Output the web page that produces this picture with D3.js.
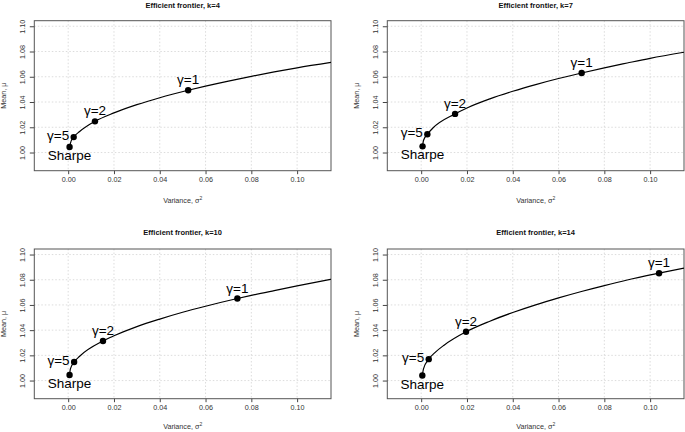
<!DOCTYPE html>
<html>
<head>
<meta charset="utf-8">
<script src="https://cdn.jsdelivr.net/npm/d3@7"></script>
<style>
  html, body { margin: 0; padding: 0; background: #fff; }
  svg { display: block; }
  text { font-family: "Liberation Sans", Arial, Helvetica, sans-serif; }
  .axis text { -webkit-font-smoothing: grayscale; }
</style>
</head>
<body>
<svg id="chart" width="685" height="432"></svg>
<script>
// ---- data ----
const titles = ["Efficient frontier, k=4", "Efficient frontier, k=7", "Efficient frontier, k=10", "Efficient frontier, k=14"];
const pointLabels = ["Sharpe", "γ=5", "γ=2", "γ=1"];
const pointVar = [
  [0.0006, 0.0024, 0.0117, 0.0524],
  [0.0006, 0.0027, 0.0148, 0.0701],
  [0.0006, 0.0026, 0.0152, 0.0739],
  [0.0005, 0.0033, 0.0196, 0.1039]
];
const pointMean = [
  [1.0044, 1.0122, 1.0247, 1.0493],
  [1.0049, 1.0145, 1.0306, 1.0630],
  [1.0044, 1.0147, 1.0314, 1.0651],
  [1.0040, 1.0170, 1.0387, 1.0852]
];
const curveVar = [
  [0.0006, 0.001, 0.0024, 0.005, 0.0117, 0.02, 0.03, 0.04, 0.0524, 0.06, 0.07, 0.08, 0.09, 0.10, 0.1148],
  [0.0006, 0.001, 0.0027, 0.005, 0.0148, 0.02, 0.03, 0.04, 0.05, 0.06, 0.0701, 0.08, 0.09, 0.10, 0.1148],
  [0.0006, 0.001, 0.0026, 0.005, 0.0152, 0.02, 0.03, 0.04, 0.05, 0.06, 0.0739, 0.08, 0.09, 0.10, 0.1148],
  [0.0005, 0.001, 0.0033, 0.006, 0.01, 0.0196, 0.03, 0.04, 0.05, 0.06, 0.07, 0.08, 0.09, 0.1039, 0.1148]
];
const curveMean = [
  [1.0044, 1.0075, 1.0122, 1.0166, 1.0247, 1.0314, 1.0379, 1.0434, 1.0493, 1.0526, 1.0566, 1.0603, 1.0638, 1.0671, 1.0714],
  [1.0049, 1.0095, 1.0145, 1.0192, 1.0306, 1.0353, 1.0425, 1.0485, 1.0538, 1.0586, 1.0630, 1.0671, 1.0709, 1.0746, 1.0794],
  [1.0044, 1.0095, 1.0147, 1.0193, 1.0314, 1.0355, 1.0428, 1.0488, 1.0542, 1.0590, 1.0651, 1.0676, 1.0714, 1.0751, 1.0804],
  [1.0040, 1.0093, 1.0170, 1.0222, 1.0281, 1.0387, 1.0471, 1.0540, 1.0601, 1.0656, 1.0707, 1.0754, 1.0798, 1.0852, 1.0892]
];
const xTicks = [0.00, 0.02, 0.04, 0.06, 0.08, 0.10];
const yTicks = [1.00, 1.02, 1.04, 1.06, 1.08, 1.10];
const xDomain = [-0.0148, 0.1148];
const yDomain = [0.9856, 1.1044];

// ---- layout ----
const boxes = [
  { l: 34.3, r: 331, t: 20.7, b: 170.7, titleY: 7.5, xlabY: 203 },
  { l: 387.3, r: 684, t: 20.7, b: 170.7, titleY: 7.5, xlabY: 203 },
  { l: 34.3, r: 331, t: 249, b: 398.7, titleY: 234.5, xlabY: 429 },
  { l: 387.3, r: 684, t: 249, b: 398.7, titleY: 234.5, xlabY: 429 }
];

const svg = d3.select("#chart");
const fmt = d3.format(".2f");

boxes.forEach((bx, i) => {
  const x = d3.scaleLinear().domain(xDomain).range([bx.l, bx.r]);
  const y = d3.scaleLinear().domain(yDomain).range([bx.b, bx.t]);
  const g = svg.append("g");

  const clipId = "clip" + i;
  g.append("clipPath").attr("id", clipId)
    .append("rect").attr("x", bx.l).attr("y", bx.t)
    .attr("width", bx.r - bx.l).attr("height", bx.b - bx.t);

  // grid
  g.selectAll(".gx").data(xTicks).join("line")
    .attr("x1", d => x(d)).attr("x2", d => x(d))
    .attr("y1", bx.t).attr("y2", bx.b)
    .attr("stroke", "#d3d3d3").attr("stroke-width", 0.8).attr("stroke-dasharray", "1.5,2");
  g.selectAll(".gy").data(yTicks).join("line")
    .attr("y1", d => y(d)).attr("y2", d => y(d))
    .attr("x1", bx.l).attr("x2", bx.r)
    .attr("stroke", "#d3d3d3").attr("stroke-width", 0.8).attr("stroke-dasharray", "1.5,2");

  // axes
  const xAxis = d3.axisBottom(x).tickValues(xTicks).tickFormat(fmt).tickSize(3.5).tickPadding(3);
  const gx = g.append("g").attr("class", "axis").attr("transform", `translate(0,${bx.b})`).call(xAxis);
  gx.select(".domain").remove();
  gx.selectAll("line").attr("stroke", "#444");
  gx.selectAll("text").attr("font-size", 7.2).attr("fill", "#333")
    .attr("font-family", "Liberation Sans, Arial, sans-serif");

  const yAxis = d3.axisLeft(y).tickValues(yTicks).tickFormat(fmt).tickSize(4.5).tickPadding(0);
  const gy = g.append("g").attr("class", "axis").attr("transform", `translate(${bx.l},0)`).call(yAxis);
  gy.select(".domain").remove();
  gy.selectAll("line").attr("stroke", "#444");
  gy.selectAll("text")
    .attr("font-size", 7.2).attr("fill", "#333")
    .attr("font-family", "Liberation Sans, Arial, sans-serif")
    .attr("x", null).attr("dy", null)
    .attr("text-anchor", "middle")
    .attr("transform", "translate(-9,0) rotate(-90)");

  // frame
  g.append("rect").attr("x", bx.l).attr("y", bx.t)
    .attr("width", bx.r - bx.l).attr("height", bx.b - bx.t)
    .attr("fill", "none").attr("stroke", "#555").attr("stroke-width", 1);

  // titles
  g.append("text").attr("x", (bx.l + bx.r) / 2).attr("y", bx.titleY)
    .attr("text-anchor", "middle").attr("font-size", 7.5).attr("font-weight", "bold")
    .attr("fill", "#111").text(titles[i]);

  const xl = g.append("text").attr("class", "axis").attr("x", (bx.l + bx.r) / 2).attr("y", bx.xlabY)
    .attr("text-anchor", "middle").attr("font-size", 7.2).attr("fill", "#333");
  xl.append("tspan").text("Variance, σ");
  xl.append("tspan").attr("font-size", 5).attr("dy", -3).text("2");

  g.append("text").attr("class", "axis")
    .attr("transform", `translate(${bx.l - 28},${(bx.t + bx.b) / 2}) rotate(-90)`)
    .attr("text-anchor", "middle").attr("font-size", 7.2).attr("fill", "#333")
    .text("Mean, μ");

  // curve
  const pts = curveVar[i].map((v, j) => [v, curveMean[i][j]]);
  const line = d3.line().x(d => x(d[0])).y(d => y(d[1])).curve(d3.curveMonotoneX);
  g.append("path").attr("d", line(pts)).attr("clip-path", `url(#${clipId})`)
    .attr("fill", "none").attr("stroke", "#000").attr("stroke-width", 1.2);

  // points
  const pdata = pointVar[i].map((v, j) => ({ v, m: pointMean[i][j], label: pointLabels[j] }));
  g.selectAll(".pt").data(pdata).join("circle")
    .attr("cx", d => x(d.v)).attr("cy", d => y(d.m)).attr("r", 3.2).attr("fill", "#000");

  // labels
  g.selectAll(".lab").data(pdata).join("text")
    .attr("font-size", 13.5).attr("fill", "#000")
    .attr("text-anchor", d => d.label === "γ=5" ? "end" : "middle")
    .attr("x", d => d.label === "γ=5" ? x(d.v) - 4.5 : x(d.v))
    .attr("y", d => d.label === "Sharpe" ? y(d.m) + 13 : (d.label === "γ=5" ? y(d.m) + 2.5 : y(d.m) - 6))
    .text(d => d.label);
});
</script>
</body>
</html>
